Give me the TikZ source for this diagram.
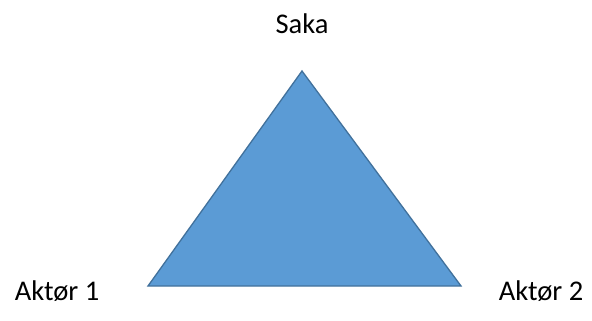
\documentclass[tikz,border=0pt]{standalone}
\usepackage{fontspec}
\setmainfont{Carlito}
\definecolor{trifill}{HTML}{5B9BD5}
\definecolor{triline}{HTML}{41719C}
\begin{document}
\begin{tikzpicture}[x=1pt,y=-1pt,
  lbl/.style={font=\fontsize{28.5}{34}\selectfont, inner sep=0pt, anchor=base}]
\useasboundingbox (0,0) rectangle (592,321);
\coordinate (top) at (302,71);
\coordinate (bl) at (148,286);
\coordinate (br) at (461,286);
\fill[trifill, draw=triline, line width=1.3pt, line join=miter] (top) -- (bl) -- (br) -- cycle;
\node[lbl] (saka) at (302,34) {Saka};
\node[lbl] (a1) at (57,300) {Aktør 1};
\node[lbl] (a2) at (541,300) {Aktør 2};
\end{tikzpicture}
\end{document}
